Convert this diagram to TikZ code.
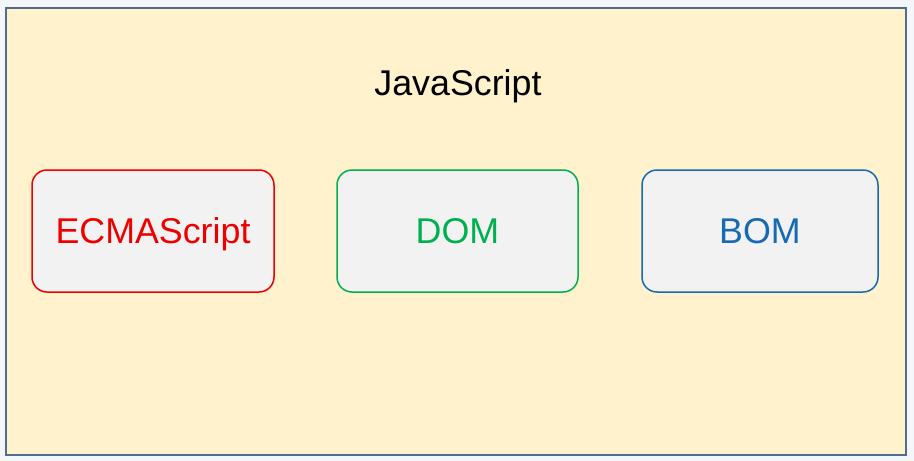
\documentclass[tikz,border=0pt]{standalone}
\usepackage{fontspec}
\setmainfont{Liberation Sans}
\definecolor{pagebg}{HTML}{F4F6F9}
\definecolor{outerfill}{HTML}{FFF2CC}
\definecolor{outerline}{HTML}{4F6D8F}
\definecolor{boxfill}{HTML}{F2F2F2}
\definecolor{cred}{HTML}{EE0000}
\definecolor{cgreen}{HTML}{00B050}
\definecolor{cblue}{HTML}{1669B4}
\tikzset{
  partbox/.style={draw, line width=1.5pt, fill=boxfill, rounded corners=15pt, minimum height=122pt, inner sep=0pt},
  lbl/.style={font=\fontsize{35.8}{42}\selectfont, anchor=base, inner sep=0pt}
}
\begin{document}
\begin{tikzpicture}[x=1pt,y=-1pt]
\useasboundingbox (0,0) rectangle (914,461);
\fill[pagebg] (0,0) rectangle (914,461);
\draw[outerline, line width=2pt, fill=outerfill] (6,8) rectangle (906,455);
\node[partbox, draw=cred, minimum width=242pt] (ecma) at (153,231) {};
\node[partbox, draw=cgreen, minimum width=241pt] (dom) at (457.5,231) {};
\node[partbox, draw=cblue, minimum width=236pt] (bom) at (760,231) {};
\node[lbl] (js) at (458,95) {JavaScript};
\node[lbl, text=cred] (ecmat) at (153,243.5) {ECMAScript};
\node[lbl, text=cgreen] (domt) at (457.5,243.5) {DOM};
\node[lbl, text=cblue] (bomt) at (760,243.5) {BOM};
\end{tikzpicture}
\end{document}
